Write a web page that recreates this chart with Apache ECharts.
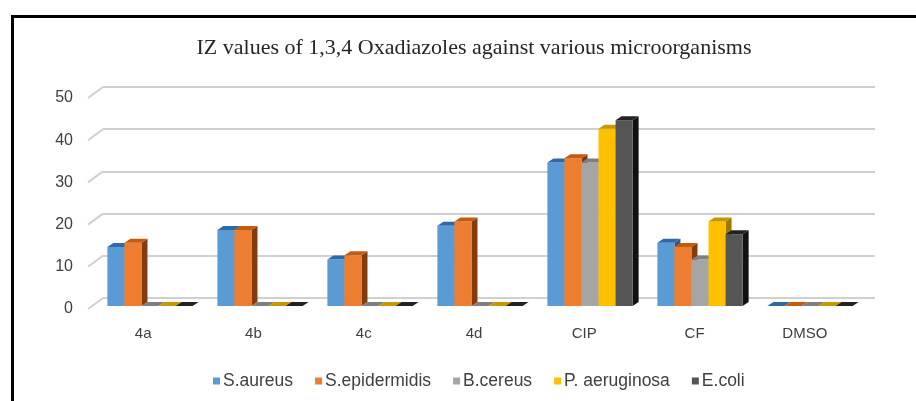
<!DOCTYPE html>
<html>
<head>
<meta charset="utf-8">
<script src="https://cdn.jsdelivr.net/npm/echarts@6/dist/echarts.min.js"></script>
<style>
	html, body { margin: 0; padding: 0; background: #fff; }
	#chart { width: 916px; height: 401px; }
</style>
</head>
<body>
<div id="chart"></div>
<script>
var categories = ['4a', '4b', '4c', '4d', 'CIP', 'CF', 'DMSO'];
var seriesNames = ['S.aureus', 'S.epidermidis', 'B.cereus', 'P. aeruginosa', 'E.coli'];
var sAureus = [14, 18, 11, 19, 34, 15, 0];
var sEpidermidis = [15, 18, 12, 20, 35, 14, 0];
var bCereus = [0, 0, 0, 0, 34, 11, 0];
var pAeruginosa = [0, 0, 0, 0, 42, 20, 0];
var eColi = [0, 0, 0, 0, 44, 17, 0];
var yTicks = [0, 10, 20, 30, 40, 50];

var allValues = [sAureus, sEpidermidis, bCereus, pAeruginosa, eColi];
// front, top, side shades
var shades = [
	['#5b9bd5', '#2f6aa6', '#2a5a8c'],
	['#ed7d31', '#c55a11', '#843c0c'],
	['#a5a5a5', '#7f7f7f', '#666666'],
	['#ffc000', '#c89600', '#a07800'],
	['#555555', '#222222', '#111111']
];

var chart = echarts.init(document.getElementById('chart'));

function renderBar(params, api) {
	var cat = api.value(0), val = api.value(1);
	var base = api.coord([cat, 0]);
	var top = api.coord([cat, val]);
	var band = api.size([1, 0])[0];
	var w = band * 0.155;
	var k = params.seriesIndex - 1;
	var x0 = base[0] + (k - 2.5) * w;
	var x1 = x0 + w;
	var dx = 6, dy = 4;
	var c = shades[k];
	return {
		type: 'group',
		children: [{
			type: 'polygon',
			shape: { points: [[x1, top[1]], [x1 + dx, top[1] - dy], [x1 + dx, base[1] - dy], [x1, base[1]]] },
			style: { fill: c[2] }
		}, {
			type: 'rect',
			shape: { x: x0, y: top[1], width: w, height: base[1] - top[1] },
			style: { fill: c[0] }
		}, {
			type: 'polygon',
			shape: { points: [[x0, top[1]], [x1, top[1]], [x1 + dx, top[1] - dy], [x0 + dx, top[1] - dy]] },
			style: { fill: c[1] }
		}]
	};
}

var series = [{
	type: 'custom',
	xAxisIndex: 0,
	yAxisIndex: 0,
	silent: true,
	data: yTicks.map(function (t) { return [0, t]; }),
	encode: { x: 0, y: 1 },
	renderItem: function (params, api) {
		var p = api.coord([0, api.value(1)]);
		var x = params.coordSys.x;
		return {
			type: 'line',
			shape: { x1: x, y1: p[1], x2: x + 15, y2: p[1] - 11 },
			style: { stroke: '#d0d0d0', lineWidth: 2 }
		};
	}
}];

seriesNames.forEach(function (name, i) {
	series.push({
		name: name,
		type: 'custom',
		xAxisIndex: 2,
		yAxisIndex: 2,
		itemStyle: { color: shades[i][0] },
		data: allValues[i].map(function (v, j) { return [j, v]; }),
		encode: { x: 0, y: 1 },
		renderItem: renderBar
	});
});

var option = {
	backgroundColor: '#fff',
	animation: false,
	title: {
		text: 'IZ values of 1,3,4 Oxadiazoles against various microorganisms',
		left: 469,
		textAlign: 'center',
		top: 32,
		textStyle: { fontFamily: 'Liberation Serif', fontSize: 22, fontWeight: 'normal', color: '#262626' }
	},
	legend: {
		data: seriesNames,
		left: 208,
		top: 367,
		icon: 'rect',
		itemWidth: 7,
		itemHeight: 7,
		itemGap: 22,
		textStyle: { fontFamily: 'Liberation Sans', fontSize: 17.5, color: '#404040', padding: [0, 0, 0, -2] }
	},
	graphic: [{
		type: 'rect',
		left: 10,
		top: 14,
		shape: { width: 1000, height: 500 },
		style: { fill: null, stroke: '#000', lineWidth: 3 },
		z: 100
	}],
	grid: [
		{ left: 88, right: 56, top: 98, bottom: 92 },
		{ left: 103, right: 41, top: 87, bottom: 103 },
		{ left: 95, right: 51, top: 95, bottom: 95 }
	],
	xAxis: [
		{
			gridIndex: 0, type: 'category', data: categories,
			axisLine: { show: false }, axisTick: { show: false },
			axisLabel: { margin: 17, fontFamily: 'Liberation Sans', fontSize: 15, color: '#404040' }
		},
		{ gridIndex: 1, type: 'category', data: categories, show: false },
		{ gridIndex: 2, type: 'category', data: categories, show: false }
	],
	yAxis: [
		{
			gridIndex: 0, type: 'value', min: 0, max: 50, interval: 10,
			axisLine: { show: false }, axisTick: { show: false }, splitLine: { show: false },
			axisLabel: { margin: 15, fontFamily: 'Liberation Sans', fontSize: 16, color: '#404040' }
		},
		{
			gridIndex: 1, type: 'value', min: 0, max: 50, interval: 10,
			axisLine: { show: false }, axisTick: { show: false }, axisLabel: { show: false },
			splitLine: { lineStyle: { color: '#d0d0d0', width: 2 } }
		},
		{ gridIndex: 2, type: 'value', min: 0, max: 50, interval: 10, show: false, splitLine: { show: false } }
	],
	series: series
};
chart.setOption(option);
</script>
</body>
</html>
